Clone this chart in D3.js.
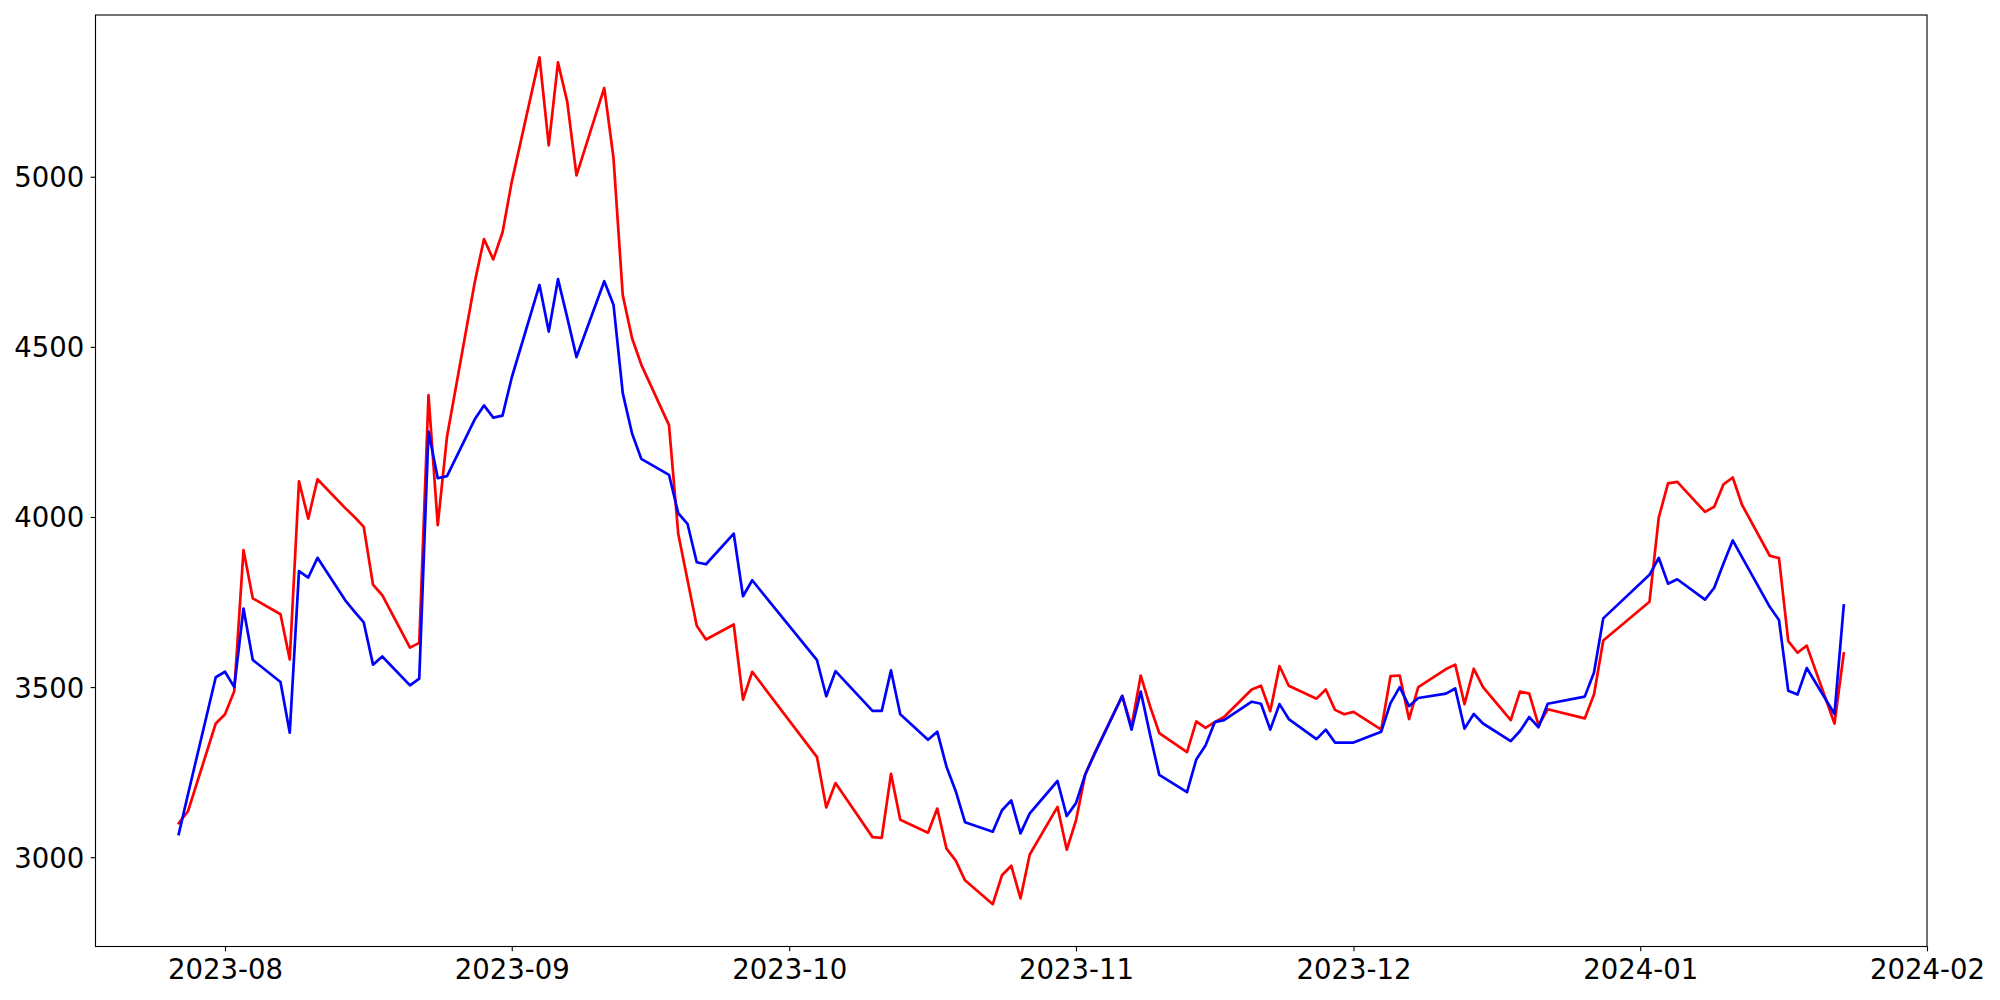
<!DOCTYPE html>
<html>
<head>
<meta charset="utf-8">
<script src="https://cdn.jsdelivr.net/npm/d3@7"></script>
<style>
  html, body { margin: 0; padding: 0; background: #ffffff; }
  svg { display: block; }
</style>
</head>
<body>
<svg id="chart" width="2000" height="1000"></svg>
<script>
// ---------------- data ----------------
const dates = [
  "2023-07-27","2023-07-28","2023-07-31",
  "2023-08-01","2023-08-02","2023-08-03","2023-08-04","2023-08-07","2023-08-08","2023-08-09","2023-08-10","2023-08-11",
  "2023-08-14","2023-08-15","2023-08-16","2023-08-17","2023-08-18","2023-08-21","2023-08-22","2023-08-23","2023-08-24","2023-08-25",
  "2023-08-28","2023-08-29","2023-08-30","2023-08-31",
  "2023-09-01","2023-09-04","2023-09-05","2023-09-06","2023-09-07","2023-09-08","2023-09-11","2023-09-12","2023-09-13","2023-09-14","2023-09-15",
  "2023-09-18","2023-09-19","2023-09-20","2023-09-21","2023-09-22","2023-09-25","2023-09-26","2023-09-27",
  "2023-10-04","2023-10-05","2023-10-06","2023-10-10","2023-10-11","2023-10-12","2023-10-13","2023-10-16","2023-10-17","2023-10-18","2023-10-19","2023-10-20",
  "2023-10-23","2023-10-24","2023-10-25","2023-10-26","2023-10-27","2023-10-30","2023-10-31",
  "2023-11-01","2023-11-02","2023-11-03","2023-11-06","2023-11-07","2023-11-08","2023-11-09","2023-11-10","2023-11-13","2023-11-14","2023-11-15","2023-11-16","2023-11-17",
  "2023-11-20","2023-11-21","2023-11-22","2023-11-23","2023-11-24","2023-11-27","2023-11-28","2023-11-29","2023-11-30",
  "2023-12-01","2023-12-04","2023-12-05","2023-12-06","2023-12-07","2023-12-08","2023-12-11","2023-12-12","2023-12-13","2023-12-14","2023-12-15",
  "2023-12-18","2023-12-19","2023-12-20","2023-12-21","2023-12-22","2023-12-26","2023-12-27","2023-12-28",
  "2024-01-02","2024-01-03","2024-01-04","2024-01-05","2024-01-08","2024-01-09","2024-01-10","2024-01-11","2024-01-12",
  "2024-01-15","2024-01-16","2024-01-17","2024-01-18","2024-01-19","2024-01-22","2024-01-23"
];

const redSeries = [
  3100,3135,3393,
  3420,3488,3903,3761,3714,3581,4105,3995,4111,
  4026,4000,3971,3801,3770,3616,3630,4358,3976,4236,
  4690,4817,4757,4836,
  4985,5351,5092,5336,5220,5004,5261,5055,4652,4526,4448,
  4270,3950,3815,3680,3640,3684,3463,3545,
  3294,3146,3218,3059,3057,3245,3110,3072,3143,3025,2990,2932,
  2862,2947,2975,2879,3008,3148,3022,
  3108,3244,3305,3474,3384,3534,3444,3365,3309,3399,3380,3397,3412,
  3493,3504,3429,3562,3504,3466,3493,3433,3420,
  3427,3375,3532,3534,3406,3500,3553,3566,3450,3554,3500,
  3403,3487,3481,3388,3435,3408,3478,3637,
  3751,3998,4099,4103,4015,4030,4096,4116,4036,
  3886,3879,3635,3601,3622,3393,3599
];

const blueSeries = [
  3068,3185,3529,
  3545,3500,3731,3580,3515,3366,3841,3822,3880,
  3755,3722,3690,3566,3590,3505,3525,4251,4114,4120,
  4287,4328,4292,4298,
  4410,4682,4545,4699,4586,4470,4693,4624,4364,4246,4171,
  4124,4011,3980,3867,3861,3951,3767,3814,
  3579,3473,3547,3430,3430,3549,3420,3345,3369,3266,3194,3103,
  3075,3138,3167,3070,3129,3224,3121,
  3159,3243,3303,3474,3375,3487,3361,3242,3191,3287,3328,3397,3403,
  3457,3451,3375,3450,3406,3347,3375,3337,3337,
  3337,3369,3453,3500,3444,3468,3481,3496,3378,3421,3393,
  3341,3371,3412,3382,3451,3472,3543,3702,
  3830,3880,3804,3817,3757,3792,3863,3931,3882,
  3736,3697,3489,3478,3556,3421,3740
];

const yTickValues = [3000, 3500, 4000, 4500, 5000];
const xTickLabels = ["2023-08","2023-09","2023-10","2023-11","2023-12","2024-01","2024-02"];

// ---------------- layout ----------------
const plot = { left: 95.5, right: 1927, top: 15, bottom: 946.5 };
const fontSize = 27.5;
const tickLen = 4.86;

const parse = d3.timeParse("%Y-%m-%d");
const parseMonth = d3.timeParse("%Y-%m");
const xDates = dates.map(parse);

// matplotlib-like 5% margins
const xExt = d3.extent(xDates);
const xSpan = xExt[1] - xExt[0];
const xDomain = [new Date(+xExt[0] - 0.05 * xSpan), new Date(+xExt[1] + 0.05 * xSpan)];

const allVals = redSeries.concat(blueSeries);
const yExt = d3.extent(allVals);
const ySpan = yExt[1] - yExt[0];
const yDomain = [yExt[0] - 0.05 * ySpan, yExt[1] + 0.05 * ySpan];

const x = d3.scaleTime().domain(xDomain).range([plot.left, plot.right]);
const y = d3.scaleLinear().domain(yDomain).range([plot.bottom, plot.top]);

const svg = d3.select("#chart");
svg.append("rect").attr("x", 0).attr("y", 0).attr("width", 2000).attr("height", 1000).attr("fill", "#ffffff");

// lines
const lineGen = (vals) => d3.line()
  .x((d, i) => x(xDates[i]))
  .y((d) => y(d))(vals);

const linesG = svg.append("g");
linesG.append("path")
  .attr("d", lineGen(redSeries))
  .attr("fill", "none")
  .attr("stroke", "#ff0000")
  .attr("stroke-width", 2.7)
  .attr("stroke-linejoin", "round")
  .attr("stroke-linecap", "square");
linesG.append("path")
  .attr("d", lineGen(blueSeries))
  .attr("fill", "none")
  .attr("stroke", "#0000ff")
  .attr("stroke-width", 2.7)
  .attr("stroke-linejoin", "round")
  .attr("stroke-linecap", "square");

// axes
const xAxis = d3.axisBottom(x)
  .tickValues(xTickLabels.map(parseMonth))
  .tickFormat(d3.timeFormat("%Y-%m"))
  .tickSizeInner(tickLen)
  .tickSizeOuter(0)
  .tickPadding(8);

const yAxis = d3.axisLeft(y)
  .tickValues(yTickValues)
  .tickFormat(d3.format("d"))
  .tickSizeInner(tickLen)
  .tickSizeOuter(0)
  .tickPadding(6.5);

const gx = svg.append("g")
  .attr("transform", `translate(0,${plot.bottom})`)
  .call(xAxis);
const gy = svg.append("g")
  .attr("transform", `translate(${plot.left},0)`)
  .call(yAxis);

[gx, gy].forEach(g => {
  g.select(".domain").remove();
  g.selectAll(".tick line").attr("stroke", "#000").attr("stroke-width", 1.11);
  g.selectAll(".tick text")
    .attr("fill", "#000")
    .style("font-family", "'DejaVu Sans', sans-serif")
    .style("font-size", fontSize + "px");
});
gy.selectAll(".tick text").attr("dy", "0.36em");

// frame (spines)
svg.append("rect")
  .attr("x", plot.left)
  .attr("y", plot.top)
  .attr("width", plot.right - plot.left)
  .attr("height", plot.bottom - plot.top)
  .attr("fill", "none")
  .attr("stroke", "#000")
  .attr("stroke-width", 1.11);
</script>
</body>
</html>
